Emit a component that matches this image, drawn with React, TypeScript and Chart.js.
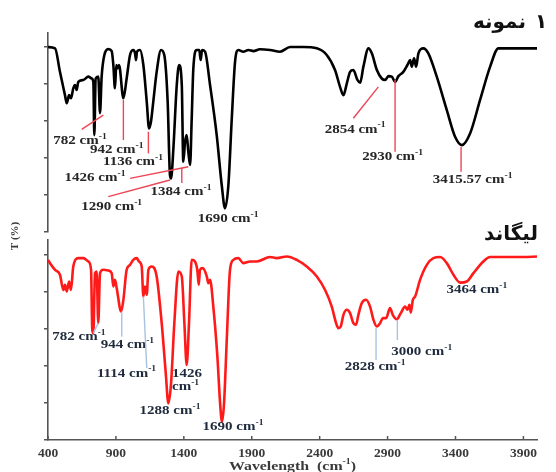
import React, { useEffect, useRef } from 'react';
import { Chart, registerables } from 'chart.js';

Chart.register(...registerables);

const xTickValues = [400, 900, 1400, 1900, 2400, 2900, 3400, 3900];
const yTickValues = [0, 20, 40, 60, 80, 100];

const sampleWave = [400, 452, 488, 525, 538, 555, 569, 586, 599, 611, 623, 660, 697, 722, 734, 741, 751, 770, 783, 795, 815, 844, 869, 881, 893, 903, 913, 923, 955, 979, 1004, 1028, 1041, 1048, 1055, 1077, 1102, 1127, 1144, 1158, 1175, 1200, 1232, 1256, 1281, 1298, 1306, 1323, 1348, 1365, 1385, 1396, 1409, 1421, 1433, 1446, 1458, 1470, 1495, 1514, 1524, 1534, 1556, 1593, 1642, 1679, 1703, 1728, 1753, 1777, 1801, 1838, 1875, 1912, 1960, 2035, 2108, 2182, 2280, 2379, 2452, 2513, 2550, 2575, 2600, 2624, 2648, 2678, 2698, 2722, 2759, 2784, 2821, 2857, 2882, 2906, 2931, 2955, 2980, 3016, 3046, 3066, 3078, 3095, 3110, 3127, 3164, 3200, 3262, 3336, 3397, 3447, 3508, 3581, 3655, 3716, 3800, 4000];
const sampleT = [100, 99.3, 86.6, 74, 69.6, 74, 72.3, 77.7, 79.5, 76.8, 81.2, 82.2, 84, 83, 81, 52.4, 83, 84, 64.3, 84, 95.7, 98.9, 97.8, 90.3, 77.7, 90.3, 88.5, 90.3, 72.3, 83, 95.7, 98.4, 96.6, 93, 97.5, 98.4, 90.3, 70.4, 56, 59.6, 70.4, 86.6, 98.4, 95.7, 70.4, 30.8, 29, 45, 79.5, 90.3, 79.5, 38, 48.8, 52.4, 43.4, 36.2, 61.4, 88.5, 98.4, 98.4, 93, 98.4, 97.5, 79.5, 52.4, 25.4, 12.8, 25.4, 61.4, 92, 98.4, 97.5, 98.4, 97.8, 98.8, 98.4, 97.5, 100, 100, 99.3, 95.7, 87.6, 78.5, 74, 80.4, 86.6, 87.6, 82.2, 80.7, 89.4, 99.3, 96.6, 87.6, 83, 82.2, 84.3, 84, 81.2, 84.3, 86.6, 90.3, 93, 89.4, 93.9, 89.4, 96.6, 99.3, 96.6, 84, 65.9, 51.5, 47, 53.4, 71.4, 89.4, 99.3, 99.3, 99.3];

const ligandWave = [400, 415, 452, 488, 513, 525, 538, 555, 569, 586, 623, 660, 697, 717, 726, 734, 746, 758, 770, 783, 807, 844, 869, 881, 893, 906, 938, 955, 979, 1004, 1028, 1053, 1070, 1090, 1102, 1114, 1127, 1139, 1164, 1200, 1237, 1267, 1286, 1306, 1330, 1360, 1385, 1404, 1421, 1438, 1458, 1482, 1499, 1510, 1519, 1539, 1569, 1580, 1593, 1617, 1647, 1667, 1681, 1696, 1716, 1740, 1765, 1801, 1838, 1888, 1937, 2035, 2084, 2158, 2231, 2305, 2379, 2440, 2489, 2521, 2538, 2555, 2575, 2600, 2624, 2648, 2668, 2685, 2710, 2742, 2771, 2796, 2820, 2845, 2865, 2889, 2918, 2938, 2968, 2997, 3029, 3046, 3061, 3071, 3086, 3103, 3139, 3189, 3237, 3287, 3336, 3385, 3434, 3483, 3532, 3605, 3655, 3753, 3900, 4000];
const ligandT = [97.3, 95.5, 91.9, 89.2, 81, 83.8, 80.2, 85.6, 81, 93.7, 98.2, 98.2, 96.4, 91.9, 59.5, 57.7, 90.1, 91, 63.1, 90.1, 91.9, 91.5, 90.1, 82.9, 86.5, 82, 69.4, 75.7, 91.9, 94.6, 97.3, 98.2, 96.4, 93.7, 77.5, 82.9, 78.4, 91.9, 93.7, 88.3, 63.1, 36, 19.8, 30.6, 63.1, 91, 88.3, 63.1, 40.5, 63.1, 97.3, 96.4, 91.9, 83.8, 91.9, 92.8, 88.3, 84.7, 86.5, 72, 45, 19.8, 9.9, 19.8, 54, 91.9, 97.3, 98.2, 95.5, 96.4, 96.4, 98.8, 98.2, 99.1, 97.3, 93.7, 88.3, 81, 72, 63.1, 60.4, 61.3, 67.6, 70.3, 68.5, 63.1, 62.2, 67.6, 73.9, 75.7, 72, 64.9, 61.3, 63.1, 65.8, 65.8, 71.2, 67.6, 65.2, 68.5, 72, 70.3, 73, 68.8, 75.7, 77.5, 86.5, 94.6, 98.2, 98.8, 95.5, 89.2, 85, 85.6, 90.1, 96.4, 98.8, 98.8, 98.8, 99.1];

const sampleName = 'نمونه';
const sampleNumber = '۱';
const ligandName = 'لیگاند';
const yAxisLabel = 'T (%)';
const xAxisLabel = 'Wavelength  (cm';
const unitText = ' cm';
const unitSup = '-1';

type Mark = { text: string; x: number; y: number; align?: 'left' | 'center'; wrap?: boolean; line?: number[] };

const sampleMarks: Mark[] = [
  { text: '782', x: 636, y: 49.2, line: [648, 55.5, 807, 63.2] },
  { text: '942', x: 906, y: 44.3, line: [955, 71.4, 955, 49.7] },
  { text: '1136', x: 1026, y: 38, line: [1139, 54.2, 1139, 42.5] },
  { text: '1426', x: 746, y: 29.4, line: [1004, 29, 1433, 35.3] },
  { text: '1290', x: 869, y: 13.7, line: [844, 19.1, 1298, 28.1] },
  { text: '1384', x: 1379, y: 21.8, line: [1385, 34.6, 1385, 26.5] },
  { text: '1690', x: 1726, y: 6.9 },
  { text: '2854', x: 2661, y: 55.5, line: [2648, 61.5, 2832, 78.5] },
  { text: '2930', x: 2937, y: 40.7, line: [2955, 82.2, 2955, 43.4] },
  { text: '3415.57', x: 3526, y: 28.1, line: [3441, 46.1, 3441, 32.6] },
];

const ligandMarks: Mark[] = [
  { text: '782', x: 628, y: 55.5, line: [770, 63.1, 734, 57.7] },
  { text: '944', x: 985, y: 51.4, line: [943, 69.4, 943, 55.8] },
  { text: '1114', x: 978, y: 36, line: [1102, 77.5, 1127, 38.8] },
  { text: '1426', x: 1313, y: 35.7, align: 'left', wrap: true },
  { text: '1288', x: 1298, y: 15.8 },
  { text: '1690', x: 1762, y: 6.9 },
  { text: '2828', x: 2808, y: 39.6, line: [2815, 60.5, 2815, 43.2] },
  { text: '3000', x: 3152, y: 47.4, line: [2972, 64.9, 2972, 54] },
  { text: '3464', x: 3557, y: 81.1 },
];

const SERIF = '"Liberation Serif", "Times New Roman", serif';
const AXIS = '#555555';

type Part = { t: string; sup?: boolean };

function drawParts(ctx: CanvasRenderingContext2D, parts: Part[], x: number, y: number, align: string, size: number, color: string, stretch: number) {
  ctx.save();
  ctx.fillStyle = color;
  ctx.textBaseline = 'middle';
  ctx.textAlign = 'left';
  const big = `bold ${size}px ${SERIF}`;
  const small = `bold ${Math.round(size * 0.62)}px ${SERIF}`;
  const widths = parts.map((p) => {
    ctx.font = p.sup ? small : big;
    return ctx.measureText(p.t).width;
  });
  const total = widths.reduce((a, b) => a + b, 0) * stretch;
  const left = align === 'left' ? x : align === 'right' ? x - total : x - total / 2;
  ctx.translate(left, y);
  ctx.scale(stretch, 1);
  let cx = 0;
  parts.forEach((p, i) => {
    ctx.font = p.sup ? small : big;
    ctx.fillText(p.t, cx, p.sup ? -size * 0.33 : 0);
    cx += widths[i];
  });
  ctx.restore();
}

function makeConfig(opts: {
  wave: number[]; t: number[]; color: string; ymax: number; showX: boolean;
  marks: Mark[]; textColor: string; lineColor: string; padding: any;
  extra: (ctx: CanvasRenderingContext2D, chart: any) => void;
}): any {
  const annot = {
    id: 'annot',
    afterDatasetsDraw(chart: any) {
      const ctx: CanvasRenderingContext2D = chart.ctx;
      const xs = chart.scales.x;
      const ys = chart.scales.y;
      ctx.save();
      opts.marks.forEach((m) => {
        if (m.line) {
          ctx.strokeStyle = opts.lineColor;
          ctx.lineWidth = 1.4;
          ctx.beginPath();
          ctx.moveTo(xs.getPixelForValue(m.line[0]), ys.getPixelForValue(m.line[1]));
          ctx.lineTo(xs.getPixelForValue(m.line[2]), ys.getPixelForValue(m.line[3]));
          ctx.stroke();
        }
        const px = xs.getPixelForValue(m.x);
        const py = ys.getPixelForValue(m.y);
        if (m.wrap) {
          drawParts(ctx, [{ t: m.text }], px, py, 'left', 12.5, opts.textColor, 1.2);
          drawParts(ctx, [{ t: unitText.trim() }, { t: unitSup, sup: true }], px, py + 13, 'left', 12.5, opts.textColor, 1.2);
        } else {
          drawParts(ctx, [{ t: m.text + unitText }, { t: unitSup, sup: true }], px, py, m.align || 'center', 12.5, opts.textColor, 1.2);
        }
      });
      opts.extra(ctx, chart);
      ctx.restore();
    },
  };
  return {
    type: 'line',
    data: {
      datasets: [{
        data: opts.wave.map((w, i) => ({ x: w, y: opts.t[i] })),
        borderColor: opts.color,
        borderWidth: 2.6,
        pointRadius: 0,
        cubicInterpolationMode: 'monotone',
        fill: false,
      }],
    },
    options: {
      animation: false,
      responsive: false,
      maintainAspectRatio: false,
      layout: { padding: opts.padding },
      plugins: { legend: { display: false }, tooltip: { enabled: false }, title: { display: false } },
      scales: {
        x: {
          type: 'linear',
          min: 400,
          max: 4000,
          display: opts.showX,
          afterBuildTicks: (s: any) => { s.ticks = xTickValues.map((v) => ({ value: v })); },
          afterFit: (s: any) => { s.height = opts.showX ? 32 : 0; },
          grid: { drawOnChartArea: false, drawTicks: false, display: false },
          border: { display: true, color: AXIS, width: 1.6 },
          ticks: {
            font: { family: SERIF, weight: 'bold', size: 13.5 }, color: '#3a3a3a', padding: 5,
            maxRotation: 0, autoSkip: false, callback: (v: any) => String(v),
          },
        },
        y: {
          type: 'linear',
          min: 0,
          max: opts.ymax,
          afterBuildTicks: (s: any) => { s.ticks = yTickValues.map((v) => ({ value: v })); },
          afterFit: (s: any) => { s.width = 48; },
          grid: { drawOnChartArea: false, drawTicks: true, tickLength: 4, color: AXIS, lineWidth: 1.5 },
          border: { display: true, color: AXIS, width: 1.6 },
          ticks: { display: false },
        },
      },
    },
    plugins: [annot],
  };
}

export default function App() {
  const topRef = useRef<HTMLCanvasElement>(null);
  const botRef = useRef<HTMLCanvasElement>(null);

  useEffect(() => {
    const top = new Chart(topRef.current as HTMLCanvasElement, makeConfig({
      wave: sampleWave, t: sampleT, color: '#000000', ymax: 107.6, showX: false,
      marks: sampleMarks, textColor: '#262626', lineColor: '#ee4455',
      padding: { top: 33, bottom: 18, left: 0, right: 19 },
      extra: (ctx) => {
        ctx.save();
        ctx.fillStyle = '#111111';
        ctx.font = 'bold 20px "DejaVu Sans", sans-serif';
        ctx.textBaseline = 'middle';
        ctx.textAlign = 'center';
        ctx.fillText(sampleNumber, 541, 23);
        ctx.textAlign = 'right';
        ctx.fillText(sampleName, 526, 23);
        ctx.restore();
      },
    }));
    const bot = new Chart(botRef.current as HTMLCanvasElement, makeConfig({
      wave: ligandWave, t: ligandT, color: '#ff1a1a', ymax: 108, showX: true,
      marks: ligandMarks, textColor: '#1f2b3d', lineColor: '#a8c3df',
      padding: { top: 20, bottom: 0, left: 0, right: 19 },
      extra: (ctx, chart) => {
        const xs = chart.scales.x;
        const area = chart.chartArea;
        ctx.save();
        ctx.strokeStyle = AXIS;
        ctx.lineWidth = 1.5;
        xTickValues.forEach((v) => {
          const px = xs.getPixelForValue(v);
          ctx.beginPath();
          ctx.moveTo(px, area.bottom);
          ctx.lineTo(px, area.bottom - 4);
          ctx.stroke();
        });
        ctx.restore();
        drawParts(ctx, [{ t: xAxisLabel }, { t: unitSup, sup: true }, { t: ')' }], (area.left + area.right) / 2, 246.5, 'center', 13, '#3a3a3a', 1.22);
        ctx.save();
        ctx.translate(15, 16);
        ctx.rotate(-Math.PI / 2);
        ctx.fillStyle = '#3a3a3a';
        ctx.font = `bold 11px ${SERIF}`;
        ctx.textAlign = 'center';
        ctx.textBaseline = 'middle';
        ctx.fillText(yAxisLabel, 0, 0);
        ctx.restore();
        ctx.save();
        ctx.fillStyle = '#111111';
        ctx.font = 'bold 20px "DejaVu Sans", sans-serif';
        ctx.textBaseline = 'middle';
        ctx.textAlign = 'right';
        ctx.fillText(ligandName, 538, 15);
        ctx.restore();
      },
    }));
    return () => { top.destroy(); bot.destroy(); };
  }, []);

  return (
    <div style={{ position: 'absolute', left: 0, top: 0, width: 556, height: 472, background: '#ffffff' }}>
      <canvas ref={topRef} width={556} height={250} style={{ position: 'absolute', left: 0, top: 0 }} />
      <canvas ref={botRef} width={556} height={252} style={{ position: 'absolute', left: 0, top: 220 }} />
    </div>
  );
}
